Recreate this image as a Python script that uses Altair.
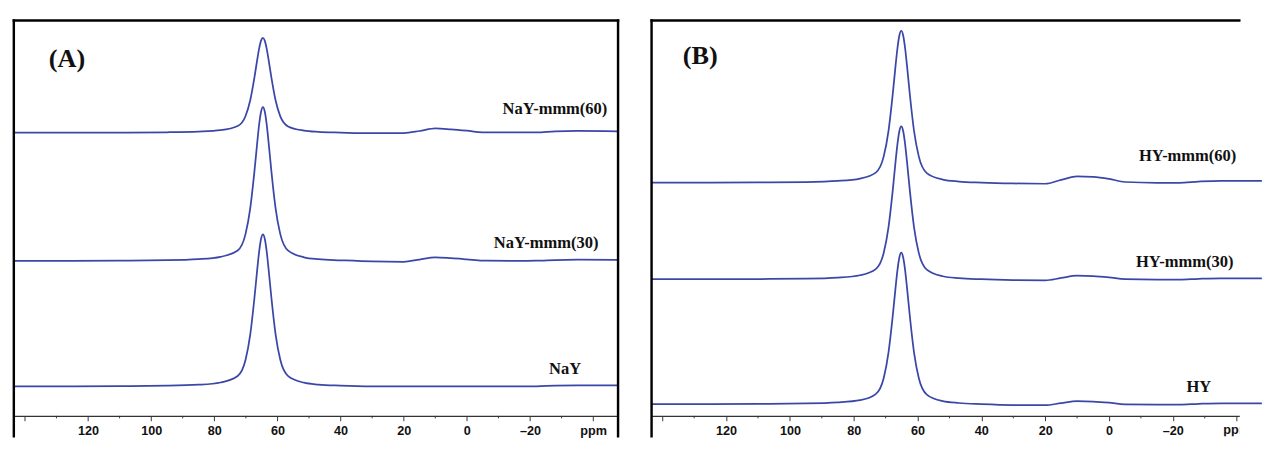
import altair as alt
import pandas as pd

# ---------------- data ----------------
# chemical shift grid (ppm) for each panel
ppm_A = [143.5, 125, 110, 95, 85, 78, 72.6, 70.1, 68.6, 67.3, 66.4, 65.8, 65.2, 64.6,
         64.0, 63.4, 62.8, 61.9, 60.6, 59.1, 56.6, 51.6, 47, 40, 30, 20, 15, 10, 5, 0,
         -5, -15, -22, -28, -35, -47.9]
ppm_B = [143.5, 125, 110, 95, 85, 78, 73.1, 70.6, 69.1, 67.8, 66.9, 66.3, 65.7, 65.1,
         64.5, 63.9, 63.3, 62.4, 61.1, 59.6, 57.1, 52.1, 47, 40, 30, 20, 15, 10, 5, 0,
         -5, -15, -22, -28, -35, -47.9]

# intensities (arbitrary units) above each trace's own baseline
nay_mmm60 = [0.6, 0.6, 0.7, 1.0, 1.7, 3.1, 7.4, 17.8, 34.2, 57.2, 75.8, 87.1, 95.3, 98.2,
             95.1, 86.9, 75.6, 56.9, 33.9, 17.4, 7.0, 2.7, 1.4, 0.7, 0.0, 0.2, 2.3, 5.0,
             4.0, 2.6, 1.0, 0.8, 0.9, 2.0, 2.4, 2.0]
nay_mmm30 = [0.7, 0.7, 0.9, 1.3, 2.4, 4.8, 11.3, 28.4, 55.1, 92.4, 122.5, 141.0, 154.1, 159.0,
             154.1, 140.9, 122.4, 92.2, 54.9, 28.1, 11.1, 4.3, 2.3, 1.2, 0.0, -0.3, 2.0, 4.2,
             3.4, 2.2, 0.9, 0.7, 0.8, 1.5, 1.8, 1.6]
nay = [0.5, 0.5, 0.7, 1.1, 2.1, 4.4, 11.1, 27.8, 54.2, 91.1, 120.9, 139.1, 152.1, 157.0,
       152.1, 139.1, 120.9, 91.1, 54.2, 27.8, 11.0, 4.2, 2.3, 1.2, 0.4, 0.3, 0.3, 0.4,
       0.4, 0.3, 0.3, 0.3, 0.5, 1.2, 1.5, 1.5]
hy_mmm60 = [1.2, 1.2, 1.4, 1.8, 2.9, 5.3, 11.5, 28.2, 54.5, 91.5, 121.3, 139.5, 152.6, 157.5,
            152.6, 139.5, 121.3, 91.4, 54.3, 27.9, 11.0, 4.3, 2.3, 1.2, 0.3, 0.0, 4.0, 7.5,
            7.0, 5.0, 1.8, 1.0, 1.0, 2.2, 3.0, 3.0]
hy_mmm30 = [1.2, 1.2, 1.4, 1.8, 2.9, 5.3, 11.6, 28.4, 54.9, 92.0, 122.0, 140.4, 153.6, 158.5,
            153.6, 140.4, 122.0, 91.9, 54.7, 28.1, 11.1, 4.3, 2.3, 1.2, 0.3, 0.0, 2.5, 4.8,
            4.5, 3.2, 1.2, 0.8, 0.8, 1.6, 2.2, 2.2]
hy = [1.2, 1.2, 1.4, 1.8, 2.9, 5.2, 11.5, 28.1, 54.4, 91.2, 120.9, 139.1, 152.1, 157.0,
      152.1, 139.1, 120.9, 91.1, 54.2, 27.8, 11.0, 4.2, 2.3, 1.2, 0.2, 0.0, 2.2, 4.2,
      3.8, 2.6, 0.9, 0.6, 0.6, 1.4, 2.0, 2.0]

names_A = ["NaY-mmm(60)", "NaY-mmm(30)", "NaY"]
names_B = ["HY-mmm(60)", "HY-mmm(30)", "HY"]
series_A = [nay_mmm60, nay_mmm30, nay]
series_B = [hy_mmm60, hy_mmm30, hy]
stack_offsets_A = [340, 208, 79]
stack_offsets_B = [288, 188.5, 60]

# trace labels: text, ppm position (right edge), vertical position
label_x_A = [-44.5, -41.7, -36.2]
label_y_A = [365, 227, 97]
label_x_B = [-39.9, -39.0, -32.0]
label_y_B = [316, 207, 79]

panel_titles = ["(A)", "(B)"]
panel_title_x = [132.4, 133.6]
panel_title_y = [416, 419]

major_ticks = [140, 120, 100, 80, 60, 40, 20, 0, -20, -40]
minor_ticks = [130, 110, 90, 70, 50, 30, 10, -10, -30]
unit_label = "ppm"
unit_value = -40

# ---------------- chart ----------------
PLOT_H = 428          # plot area height (px)
Y_TOP = 456           # value at top edge of the plot
AXIS_OFFSET = -21     # axis drawn inside the framed panel
LINE_COLOR = "#3b47a8"
FRAME = "#000000"
LABEL_FONT = "Liberation Sans"
TICK_FS = 13


def traces(ppm, series, names, offsets):
    rows = []
    for name, vals, off in zip(names, series, offsets):
        for i, (p, v) in enumerate(zip(ppm, vals)):
            rows.append({"ppm": p, "y": off + v, "name": name, "i": i})
    return pd.DataFrame(rows)


def panel(ppm, series, names, offsets, lx, ly, title, tx, ty, width, x_domain,
          right_frame, unit_in_axis):
    xs = alt.Scale(domain=x_domain, nice=False, zero=False)
    ys = alt.Scale(domain=[Y_TOP - PLOT_H, Y_TOP], nice=False, zero=False)
    unit_txt = "'ppm'" if unit_in_axis else "''"
    ax = alt.Axis(
        values=major_ticks,
        labelExpr="datum.value == 140 ? '' : (datum.value == -40 ? " + unit_txt + " : "
                  "(datum.value < 0 ? '\u2013' + abs(datum.value) : datum.label))",
        tickSize=5, tickWidth=1, tickColor="#333333",
        domainColor="#333333", domainWidth=1.2,
        labelFont=LABEL_FONT, labelFontSize=TICK_FS, labelFontWeight="bold",
        labelColor="#111111", labelPadding=4, labelFlush=False, labelOverlap=False,
        offset=AXIS_OFFSET, title=None, grid=False,
    )
    X = lambda: alt.X("ppm:Q", scale=xs, axis=ax)
    Y = lambda: alt.Y("y:Q", scale=ys, axis=None)

    df = traces(ppm, series, names, offsets)
    lines = alt.Chart(df).mark_line(
        color=LINE_COLOR, strokeWidth=1.8, interpolate="monotone"
    ).encode(x=X(), y=Y(), detail="name:N", order="i:Q")

    lab_df = pd.DataFrame({"ppm": lx, "y": ly, "text": names})
    labels = alt.Chart(lab_df).mark_text(
        align="right", baseline="middle", font="Liberation Serif",
        fontSize=17, fontWeight="bold", color="#111111",
    ).encode(x=X(), y=Y(), text="text:N")

    t_df = pd.DataFrame({"ppm": [tx], "y": [ty], "text": [title]})
    ttl = alt.Chart(t_df).mark_text(
        align="left", baseline="middle", font="Liberation Serif",
        fontSize=27, fontWeight="bold", color="#111111",
    ).encode(x=X(), y=Y(), text="text:N")

    axis_px = PLOT_H + AXIS_OFFSET
    m_df = pd.DataFrame({"ppm": minor_ticks})
    minor = alt.Chart(m_df).mark_rule(color="#333333", strokeWidth=1).encode(
        x=X(), y=alt.value(axis_px), y2=alt.value(axis_px + 2.5),
    )

    one = pd.DataFrame({"k": [0]})
    frame_top = alt.Chart(one).mark_rule(color=FRAME, strokeWidth=2.5, strokeCap="square").encode(
        x=alt.value(0), x2=alt.value(width), y=alt.value(0))
    frame_left = alt.Chart(one).mark_rule(color=FRAME, strokeWidth=2.5, strokeCap="square").encode(
        x=alt.value(0), y=alt.value(0), y2=alt.value(PLOT_H))
    layers = [lines, minor, labels, ttl, frame_top, frame_left]
    if right_frame:
        frame_right = alt.Chart(one).mark_rule(color=FRAME, strokeWidth=2.5, strokeCap="square").encode(
            x=alt.value(width), y=alt.value(0), y2=alt.value(PLOT_H))
        layers.append(frame_right)
    if not unit_in_axis:
        u_df = pd.DataFrame({"ppm": [unit_value], "text": [unit_label]})
        unit = alt.Chart(u_df).mark_text(
            align="center", baseline="top", font=LABEL_FONT, fontSize=TICK_FS,
            fontWeight="bold", color="#111111", clip=True,
        ).encode(x=X(), y=alt.value(axis_px + 9), text="text:N")
        layers.append(unit)
    return alt.layer(*layers).properties(width=width, height=PLOT_H)


WA, WB = 622, 605
pA = panel(ppm_A, series_A, names_A, stack_offsets_A, label_x_A, label_y_A,
           panel_titles[0], panel_title_x[0], panel_title_y[0], WA,
           [143.5, 143.5 - WA / 3.25], True, True)
pB = panel(ppm_B, series_B, names_B, stack_offsets_B, label_x_B, label_y_B,
           panel_titles[1], panel_title_x[1], panel_title_y[1], WB,
           [143.35, 143.35 - WB / 3.285], False, False)

chart = alt.hconcat(pA, pB, spacing=25.5).properties(
    padding={"left": 2, "top": 4.5, "right": 0, "bottom": 0},
    background="white",
).configure_view(stroke=None)

chart.save("out.html", embed_options={"renderer": "svg", "actions": False})
